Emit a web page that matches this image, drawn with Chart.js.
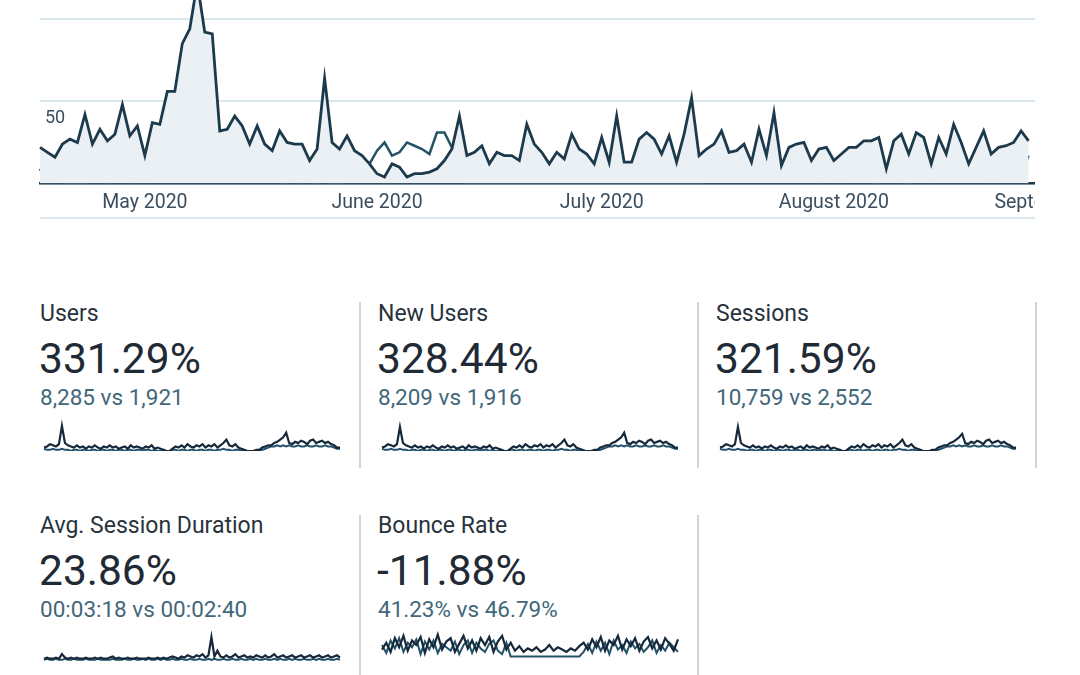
<!DOCTYPE html>
<html>
<head>
<meta charset="utf-8">
<script src="https://cdn.jsdelivr.net/npm/chart.js@4.4.0/dist/chart.umd.min.js"></script>
<style>
  body { margin: 0; background: #fff; width: 1080px; height: 675px; overflow: hidden; position: relative; font-family: Roboto, "Noto Sans", sans-serif; }
  #mainClip { position: absolute; left: 0; top: 0; width: 1035px; height: 214px; overflow: hidden; }
  #mainBox { position: absolute; left: 0; top: -38px; width: 1104px; height: 261px; }
  .sep { position: absolute; left: 40px; top: 217px; width: 995px; height: 2px; background: #dde8ee; }
  .t { position: absolute; white-space: nowrap; }
  .label { font-size: 23px; line-height: 26px; color: #28333d; }
  .big { font-size: 42.5px; line-height: 48px; color: #1f2a34; }
  .sub { font-size: 22.5px; line-height: 26px; color: #42677a; }
  .spark { position: absolute; width: 298px; height: 34px; }
  .vline { position: absolute; width: 2px; background: #cfd5d9; }
</style>
</head>
<body>
<div id="mainClip"><div id="mainBox"><canvas id="mainChart"></canvas></div></div>
<div class="sep"></div>
<div id="cards"></div>

<script>
// ---- main chart data (daily, starting 17 Apr 2020) ----
const startDate = new Date(2020, 3, 17);
const dayCount = 142; // axis runs on to 5 Sep, data stops 27 Aug
const monthNames = ["January", "February", "March", "April", "May", "June", "July", "August", "September", "October", "November", "December"];

const usersCurrent = [
  22, 19, 16, 24, 27, 25, 42, 24, 33, 26,
  30, 48, 29, 35, 17, 37, 36, 56, 56, 85,
  94, 122, 92, 91, 32, 33, 41, 35, 24, 35,
  24, 20, 32, 25, 24, 24, 14, 21, 64, 25,
  21, 29, 20, 17, 12, 6, 4, 12, 10, 4,
  6, 6, 7, 9, 14, 21, 41, 17, 19, 23,
  12, 19, 17, 17, 14, 36, 24, 19, 12, 19,
  15, 30, 21, 18, 12, 28, 13, 41, 13, 13,
  27, 31, 27, 18, 29, 13, 30, 52, 17, 21,
  24, 32, 19, 20, 24, 13, 33, 17, 43, 11,
  22, 24, 25, 14, 21, 22, 14, 18, 22, 22,
  26, 26, 28, 9, 26, 30, 18, 31, 28, 12,
  28, 18, 36, 25, 12, 22, 32, 18, 22, 23,
  25, 32, 26
];
const usersPrevious = [
  9, 0, 5, 2, 0, 1, 0, 7, 3, 0,
  5, 4, 0, 5, 0, 6, 5, 3, 4, 6,
  5, 7, 8, 12, 5, 10, 9, 6, 4, 3,
  3, 4, 1, 0, 3, 0, 2, 0, 2, 0,
  0, 6, 5, 3, 12, 20, 25, 17, 19, 25,
  23, 21, 18, 31, 31, 22, 5, 0, 0, 0,
  0, 0, 0, 1, 0, 0, 0, 0, 0, 0,
  0, 0, 0, 1, 0, 1, 0, 0, 0, 0,
  0, 0, 1, 0, 0, 0, 0, 0, 0, 2,
  3, 7, 3, 5, 1, 4, 1, 7, 3, 7,
  12, 4, 1, 6, 0, 5, 3, 0, 9, 7,
  5, 2, 0, 4, 4, 1, 0, 7, 14, 0,
  13, 11, 5, 6, 7, 4, 7, 0, 5, 4,
  4, 5, 17
];
const yTicks = [50];

// ---- scorecards ----
const cardTitles = ["Users", "New Users", "Sessions", "Avg. Session Duration", "Bounce Rate"];
const cardChanges = ["331.29%", "328.44%", "321.59%", "23.86%", "-11.88%"];
const cardCompare = ["8,285 vs 1,921", "8,209 vs 1,916", "10,759 vs 2,552", "00:03:18 vs 00:02:40", "41.23% vs 46.79%"];

// sparkline heights (relative units)
const sparkUsers = [
  3, 4, 6, 5, 4, 6, 22, 7, 5, 4, 3, 5, 3, 4, 2, 4, 3, 5, 3, 2,
  4, 3, 5, 3, 4, 2, 3, 4, 2, 5, 3, 4, 3, 2, 4, 3, 5, 2, 3, 2,
  1, 0, 0, 2, 4, 3, 5, 3, 6, 4, 3, 5, 4, 6, 3, 5, 4, 6, 3, 5,
  7, 10, 5, 4, 6, 3, 2, 1, 0, 0, 0, 1, 1, 3, 4, 5, 5, 7, 8, 10,
  12, 16, 7, 6, 8, 7, 9, 8, 6, 9, 10, 7, 8, 9, 7, 8, 6, 5, 3, 3
];
const sparkUsersPrev = [
  2, 1, 1, 2, 1, 1, 2, 1, 1, 0, 1, 1, 0, 1, 1, 0, 1, 1, 0, 1,
  1, 0, 1, 1, 0, 1, 1, 0, 1, 1, 0, 1, 1, 0, 1, 1, 0, 1, 0, 0,
  0, 0, 0, 1, 1, 0, 1, 1, 0, 1, 1, 0, 1, 1, 0, 1, 1, 0, 1, 1,
  2, 1, 1, 0, 1, 1, 0, 0, 0, 0, 0, 0, 0, 1, 2, 3, 4, 4, 5, 4,
  5, 4, 5, 4, 4, 5, 4, 4, 5, 4, 4, 5, 4, 4, 5, 4, 4, 3, 2, 2
];
const sparkNew = [
  3, 4, 6, 5, 4, 6, 21, 7, 5, 4, 3, 5, 3, 4, 2, 4, 3, 5, 3, 2,
  4, 3, 5, 3, 4, 2, 3, 4, 2, 5, 3, 4, 3, 2, 4, 3, 5, 2, 3, 2,
  1, 0, 0, 2, 4, 3, 5, 3, 6, 4, 3, 5, 4, 6, 3, 5, 4, 6, 3, 5,
  7, 10, 5, 4, 6, 3, 2, 1, 0, 0, 0, 1, 1, 3, 4, 5, 5, 7, 8, 10,
  12, 16, 7, 6, 8, 7, 9, 8, 6, 9, 10, 7, 8, 9, 7, 8, 6, 5, 3, 3
];
const sparkNewPrev = [
  2, 1, 1, 2, 1, 1, 2, 1, 1, 0, 1, 1, 0, 1, 1, 0, 1, 1, 0, 1,
  1, 0, 1, 1, 0, 1, 1, 0, 1, 1, 0, 1, 1, 0, 1, 1, 0, 1, 0, 0,
  0, 0, 0, 1, 1, 0, 1, 1, 0, 1, 1, 0, 1, 1, 0, 1, 1, 0, 1, 1,
  2, 1, 1, 0, 1, 1, 0, 0, 0, 0, 0, 0, 0, 1, 2, 3, 4, 4, 5, 4,
  5, 4, 5, 4, 4, 5, 4, 4, 5, 4, 4, 5, 4, 4, 5, 4, 4, 3, 2, 2
];
const sparkSessions = [
  3, 4, 6, 5, 4, 6, 21, 7, 5, 4, 3, 5, 3, 4, 2, 4, 3, 5, 3, 2,
  4, 3, 5, 3, 4, 2, 3, 4, 2, 5, 3, 4, 3, 2, 4, 3, 5, 2, 3, 2,
  1, 0, 0, 2, 4, 3, 5, 3, 6, 4, 3, 5, 4, 6, 3, 5, 4, 6, 3, 5,
  7, 10, 5, 4, 6, 3, 2, 1, 0, 0, 0, 1, 1, 3, 4, 5, 5, 7, 8, 10,
  12, 15, 7, 6, 8, 7, 9, 8, 6, 9, 10, 7, 8, 9, 7, 8, 6, 5, 3, 3
];
const sparkSessionsPrev = [
  2, 1, 1, 2, 1, 1, 2, 1, 1, 0, 1, 1, 0, 1, 1, 0, 1, 1, 0, 1,
  1, 0, 1, 1, 0, 1, 1, 0, 1, 1, 0, 1, 1, 0, 1, 1, 0, 1, 0, 0,
  0, 0, 0, 1, 1, 0, 1, 1, 0, 1, 1, 0, 1, 1, 0, 1, 1, 0, 1, 1,
  2, 1, 1, 0, 1, 1, 0, 0, 0, 0, 0, 0, 0, 1, 2, 3, 4, 4, 5, 4,
  5, 4, 5, 4, 4, 5, 4, 4, 5, 4, 4, 5, 4, 4, 5, 4, 4, 3, 2, 2
];
const sparkDuration = [
  2, 3, 2, 2, 3, 2, 6, 3, 2, 3, 2, 3, 2, 2, 3, 2, 2, 3, 2, 3,
  2, 2, 3, 4, 2, 3, 2, 2, 3, 2, 2, 3, 2, 2, 2, 3, 2, 2, 3, 2,
  3, 2, 3, 4, 3, 2, 4, 3, 5, 4, 3, 5, 4, 6, 3, 5, 21, 4, 9, 4,
  3, 5, 3, 4, 6, 3, 4, 5, 3, 4, 3, 5, 4, 3, 5, 3, 4, 6, 3, 4,
  5, 3, 4, 5, 3, 4, 5, 3, 4, 5, 3, 4, 5, 3, 4, 5, 3, 4, 5, 3
];
const sparkDurationPrev = [
  1, 2, 1, 1, 2, 1, 1, 2, 1, 1, 2, 1, 1, 1, 2, 1, 1, 1, 2, 1,
  1, 1, 1, 2, 1, 1, 1, 2, 1, 1, 2, 1, 1, 2, 1, 2, 1, 1, 2, 1,
  2, 1, 1, 2, 1, 1, 2, 1, 1, 2, 1, 1, 2, 1, 1, 2, 1, 2, 1, 1,
  2, 1, 1, 2, 1, 1, 2, 1, 1, 2, 1, 2, 1, 1, 2, 1, 1, 2, 1, 2,
  1, 1, 2, 1, 2, 1, 1, 2, 1, 1, 2, 1, 2, 1, 1, 2, 1, 1, 2, 1
];
const sparkBounce = [10, 16, 8, 20, 12, 22, 9, 18, 14, 21, 7, 19, 12, 23, 10, 17, 20, 8, 15, 22, 11, 18, 9, 20, 14, 21, 8, 17, 22, 10, 16, 9, 13, 8, 11, 9, 12, 8, 10, 14, 9, 12, 10, 8, 11, 9, 13, 16, 10, 19, 12, 21, 9, 18, 14, 22, 10, 19, 13, 20, 9, 17, 21, 11, 18, 10, 20, 15, 9, 19];
const sparkBouncePrev = [14, 7, 18, 11, 20, 8, 16, 12, 19, 6, 17, 10, 18, 7, 15, 12, 9, 17, 6, 14, 18, 7, 16, 11, 8, 15, 18, 9, 6, 16, 4, 4, 4, 4, 4, 4, 4, 4, 4, 4, 4, 4, 4, 4, 4, 4, 4, 8, 15, 7, 17, 9, 16, 6, 18, 10, 14, 7, 17, 11, 15, 8, 12, 18, 7, 14, 9, 16, 12, 8];

const sparkSets = [
  [sparkUsers, sparkUsersPrev],
  [sparkNew, sparkNewPrev],
  [sparkSessions, sparkSessionsPrev],
  [sparkDuration, sparkDurationPrev],
  [sparkBounce, sparkBouncePrev]
];

const lineColor = "#1c3a4b";
const prevColor = "#245366";
const sparkColor = "#16293a";
const sparkPrevColor = "#23506a";
const fillColor = "#eaf0f4";
const tickColor = "#3a4e5f";

// day labels for the x axis
const dayLabels = [];
for (let i = 0; i < dayCount; i++) {
  const d = new Date(startDate.getTime());
  d.setDate(d.getDate() + i);
  dayLabels.push(d);
}

new Chart(document.getElementById("mainChart"), {
  type: "line",
  data: {
    labels: dayLabels,
    datasets: [
      { label: "Users", data: usersCurrent, borderColor: lineColor, backgroundColor: fillColor, fill: "origin", borderWidth: 2.8, pointRadius: 0, tension: 0 },
      { label: "Users (previous period)", data: usersPrevious, borderColor: prevColor, fill: false, borderWidth: 2.5, pointRadius: 0, tension: 0 }
    ]
  },
  options: {
    responsive: true,
    maintainAspectRatio: false,
    animation: false,
    layout: { padding: { left: 30, right: 1, top: 0, bottom: 0 } },
    plugins: { legend: { display: false }, tooltip: { enabled: false } },
    scales: {
      x: {
        grid: { display: false, drawTicks: false },
        border: { display: true, color: lineColor, width: 2.5 },
        ticks: {
          autoSkip: false, maxRotation: 0, padding: 8, color: tickColor,
          font: { family: "Roboto", size: 19.5 },
          callback: function (v, i) {
            const d = dayLabels[i];
            return d.getDate() === 1 ? monthNames[d.getMonth()] + " 2020" : "";
          }
        }
      },
      y: {
        min: 0, max: 125,
        grid: { color: "#d9e7ef", lineWidth: 2, drawTicks: false },
        border: { display: false },
        ticks: {
          stepSize: 50, mirror: true, padding: 5, labelOffset: 17, color: tickColor,
          font: { family: "Roboto", size: 18 },
          callback: v => yTicks.includes(v) ? String(v) : ""
        }
      }
    }
  }
});

// ---- scorecards ----
const cardLeft = [40, 378, 716, 40, 378];
const cardTop = [0, 0, 0, 212, 212];
const cards = document.getElementById("cards");
cardTitles.forEach((title, k) => {
  const x = cardLeft[k], y = cardTop[k];
  cards.insertAdjacentHTML("beforeend",
    `<div class="t label" style="left:${x}px;top:${301 + y}px">${title}</div>` +
    `<div class="t big" style="left:${x - 1}px;top:${335 + y}px">${cardChanges[k]}</div>` +
    `<div class="t sub" style="left:${x}px;top:${384 + y}px">${cardCompare[k]}</div>` +
    `<div class="spark" style="left:${x + 3}px;top:${(k < 3 ? 418 : 416) + y}px"><canvas id="spark${k}"></canvas></div>`);
});
[[359, 302, 166], [697, 302, 166], [1035, 302, 166], [359, 515, 160], [697, 515, 160]].forEach(v => {
  cards.insertAdjacentHTML("beforeend", `<div class="vline" style="left:${v[0]}px;top:${v[1]}px;height:${v[2]}px"></div>`);
});

sparkSets.forEach((pair, k) => {
  new Chart(document.getElementById("spark" + k), {
    type: "line",
    data: {
      labels: pair[0].map((_, i) => i),
      datasets: [
        { data: pair[0], borderColor: sparkColor, borderWidth: 2.2, pointRadius: 0, tension: 0, fill: false },
        { data: pair[1], borderColor: sparkPrevColor, borderWidth: 2, pointRadius: 0, tension: 0, fill: false }
      ]
    },
    options: {
      responsive: true, maintainAspectRatio: false, animation: false,
      layout: { padding: 1 },
      plugins: { legend: { display: false }, tooltip: { enabled: false } },
      scales: { x: { display: false }, y: { display: false, min: 0, max: 28 } }
    }
  });
});
</script>
</body>
</html>
